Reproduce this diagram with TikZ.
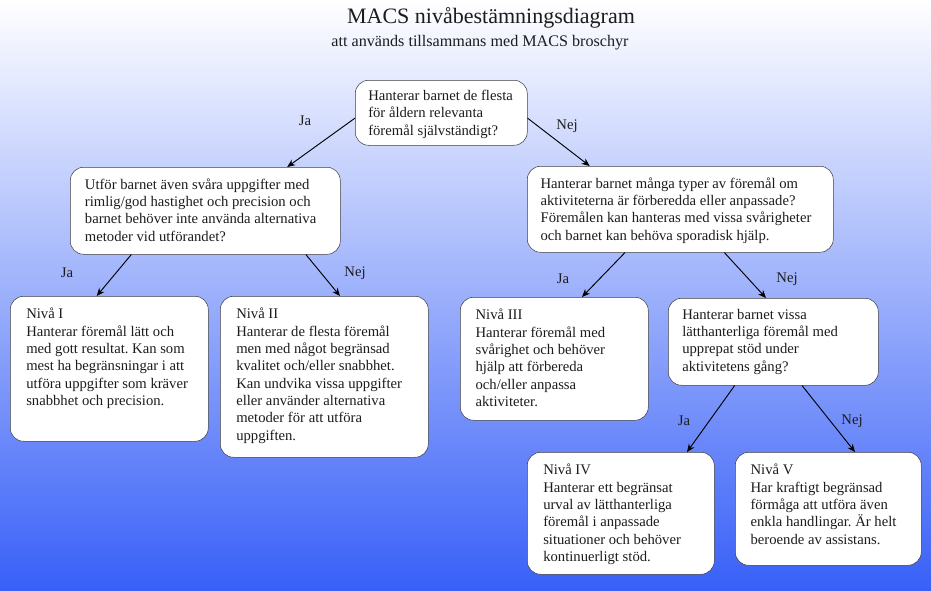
\documentclass[tikz,border=0pt]{standalone}
\usepackage{fontspec}
\setmainfont{Liberation Serif}
\usetikzlibrary{arrows.meta}
\definecolor{bgmid}{RGB}{192,198,246}
\definecolor{bgbot}{RGB}{56,96,248}
\definecolor{ram}{RGB}{64,64,64}
\definecolor{skrift}{RGB}{28,28,28}
\frenchspacing
\begin{document}
\begin{tikzpicture}[x=0.75pt,y=-0.75pt,
  ruta/.style={draw=ram, fill=white, rounded corners=10pt, anchor=north west, inner sep=0pt},
  txt/.style={anchor=north west, align=left, inner sep=0pt, text=skrift, font=\fontsize{11}{13}\selectfont},
  pil/.style={draw, line width=0.7pt, -{Stealth[length=6pt,width=5pt]}},
  svar/.style={inner sep=0pt, text=skrift, font=\fontsize{11}{13}\selectfont}]
\shade[top color=white, middle color=bgmid, bottom color=bgbot] (0,0) rectangle (931,590);
\useasboundingbox (0,0) rectangle (931,590);

\node[text=skrift, font=\fontsize{16.5}{19}\selectfont] (titel) at (491,18) {MACS nivåbestämningsdiagram};
\node[text=skrift, font=\fontsize{12.1}{14}\selectfont] (under) at (480,43) {att används tillsammans med MACS broschyr};

\node[ruta, minimum width=129pt, minimum height=48.75pt] (rot) at (355,80) {};
\node[txt] (rot-t) at ([xshift=9.75pt,yshift=-7.5pt]rot.north west) {Hanterar barnet de flesta\\för åldern relevanta\\föremål självständigt?};

\node[ruta, minimum width=202.5pt, minimum height=65.25pt] (qv) at (70,167) {};
\node[txt] (qv-t) at ([xshift=11pt,yshift=-8.5pt]qv.north west) {Utför barnet även svåra uppgifter med\\rimlig/god hastighet och precision och\\barnet behöver inte använda alternativa\\metoder vid utförandet?};

\node[ruta, minimum width=229.5pt, minimum height=64.5pt] (qh) at (527,166) {};
\node[txt] (qh-t) at ([xshift=10pt,yshift=-8.5pt]qh.north west) {Hanterar barnet många typer av föremål om\\aktiviteterna är förberedda eller anpassade?\\Föremålen kan hanteras med vissa svårigheter\\och barnet kan behöva sporadisk hjälp.};

\node[ruta, minimum width=148.5pt, minimum height=108.75pt] (n1) at (10,296) {};
\node[txt] (n1-t) at ([xshift=12pt,yshift=-9pt]n1.north west) {Nivå I\\Hanterar föremål lätt och\\med gott resultat. Kan som\\mest ha begränsningar i att\\utföra uppgifter som kräver\\snabbhet och precision.};

\node[ruta, minimum width=156pt, minimum height=120.75pt] (n2) at (220,296) {};
\node[txt] (n2-t) at ([xshift=12pt,yshift=-9pt]n2.north west) {Nivå II\\Hanterar de flesta föremål\\men med något begränsad\\kvalitet och/eller snabbhet.\\Kan undvika vissa uppgifter\\eller använder alternativa\\metoder för att utföra\\uppgiften.};

\node[ruta, minimum width=141pt, minimum height=92.25pt] (n3) at (460,297) {};
\node[txt] (n3-t) at ([xshift=11.5pt,yshift=-9pt]n3.north west) {Nivå III\\Hanterar föremål med\\svårighet och behöver\\hjälp att förbereda\\och/eller anpassa\\aktiviteter.};

\node[ruta, minimum width=157.5pt, minimum height=65.25pt] (q2) at (668,298) {};
\node[txt] (q2-t) at ([xshift=10.5pt,yshift=-8pt]q2.north west) {Hanterar barnet vissa\\lätthanterliga föremål med\\upprepat stöd under\\aktivitetens gång?};

\node[ruta, minimum width=140.25pt, minimum height=91.5pt] (n4) at (527,452) {};
\node[txt] (n4-t) at ([xshift=12pt,yshift=-9pt]n4.north west) {Nivå IV\\Hanterar ett begränsat\\urval av lätthanterliga\\föremål i anpassade\\situationer och behöver\\kontinuerligt stöd.};

\node[ruta, minimum width=139.5pt, minimum height=84.75pt] (n5) at (735,452) {};
\node[txt] (n5-t) at ([xshift=11.5pt,yshift=-9pt]n5.north west) {Nivå V\\Har kraftigt begränsad\\förmåga att utföra även\\enkla handlingar. Är helt\\beroende av assistans.};

\path[pil] ([yshift=-4pt]rot.west) -- ([xshift=-40pt]qv.north east);
\path[pil] ([yshift=-4pt]rot.east) -- ([xshift=47pt]qh.north west);
\path[pil] ([xshift=46pt]qv.south west) -- ([xshift=65pt]n1.north west);
\path[pil] ([xshift=-26pt]qv.south east) -- ([xshift=90pt]n2.north west);
\path[pil] ([xshift=73.5pt]qh.south west) -- ([xshift=91.5pt]n3.north west);
\path[pil] ([xshift=148pt]qh.south west) -- ([xshift=73.5pt]q2.north west);
\path[pil] ([xshift=50pt]q2.south west) -- ([xshift=120pt]n4.north west);
\path[pil] ([xshift=100.5pt]q2.south west) -- ([xshift=90pt]n5.north west);

\node[svar] (ja1) at (305,121) {Ja};
\node[svar] (nej1) at (567,126) {Nej};
\node[svar] (ja2) at (67,273) {Ja};
\node[svar] (nej2) at (355,273) {Nej};
\node[svar] (ja3) at (563,279) {Ja};
\node[svar] (nej3) at (787,279) {Nej};
\node[svar] (ja4) at (684,421) {Ja};
\node[svar] (nej4) at (852,421) {Nej};
\end{tikzpicture}
\end{document}
